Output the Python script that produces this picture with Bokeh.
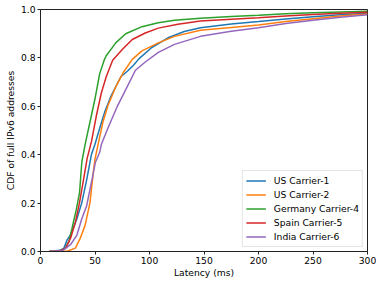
from bokeh.plotting import figure
from bokeh.embed import file_html
from bokeh.resources import INLINE
from bokeh.models import Legend, LegendItem, FixedTicker, PrintfTickFormatter, Range1d

# ---- data (latency ms, CDF) ----
us1_x = [8, 18, 21.5, 24.4, 27.5, 33.4, 37.9, 42.3, 46.8, 49.9, 54.3, 58.8, 64.7, 73.7, 79.7, 85.7, 90.2, 102.1, 117, 131.9, 146.8, 175, 200, 225, 250, 275, 300]
us1_y = [0.0, 0.005, 0.014, 0.048, 0.068, 0.135, 0.202, 0.295, 0.402, 0.442, 0.509, 0.575, 0.642, 0.722, 0.745, 0.772, 0.796, 0.843, 0.883, 0.909, 0.925, 0.940, 0.950, 0.961, 0.970, 0.978, 0.984]

us2_x = [8, 25, 32.0, 36.4, 40.9, 45.4, 48.3, 49.9, 52.8, 57.3, 61.8, 69.2, 76.7, 84.2, 93.1, 108.1, 122.9, 146.8, 175, 200, 225, 250, 275, 300]
us2_y = [0.0, 0.002, 0.014, 0.054, 0.108, 0.202, 0.321, 0.38, 0.442, 0.535, 0.602, 0.682, 0.745, 0.794, 0.829, 0.862, 0.889, 0.914, 0.926, 0.936, 0.950, 0.962, 0.973, 0.981]

de4_x = [8, 17, 23, 26, 28.9, 32.9, 35.8, 37.9, 40.9, 45.4, 49.9, 54.3, 58.8, 60.3, 69.2, 78.2, 93.1, 108, 122.9, 146.8, 175, 200, 225, 250, 275, 300]
de4_y = [0.0, 0.001, 0.014, 0.041, 0.095, 0.175, 0.242, 0.369, 0.442, 0.535, 0.629, 0.735, 0.795, 0.809, 0.863, 0.900, 0.929, 0.945, 0.956, 0.964, 0.971, 0.976, 0.982, 0.987, 0.990, 0.993]

es5_x = [8, 18, 23, 27.5, 32.0, 35.8, 39.4, 42.8, 46.8, 51.3, 55.8, 60.3, 66.2, 75.2, 84.2, 96.1, 108.1, 126, 146.8, 175, 200, 225, 250, 275, 300]
es5_y = [0.0, 0.002, 0.014, 0.054, 0.121, 0.202, 0.295, 0.385, 0.455, 0.562, 0.655, 0.722, 0.790, 0.836, 0.876, 0.903, 0.923, 0.939, 0.952, 0.960, 0.966, 0.973, 0.979, 0.985, 0.989]

in6_x = [8, 20, 27.5, 33.4, 37.9, 42.3, 48.3, 50.4, 54.3, 55.8, 61.8, 70.7, 79.7, 87.1, 96.1, 108.1, 122.9, 146.8, 175, 200, 225, 250, 275, 300]
in6_y = [0.0, 0.003, 0.028, 0.068, 0.135, 0.188, 0.321, 0.369, 0.41, 0.442, 0.509, 0.602, 0.682, 0.749, 0.783, 0.823, 0.856, 0.889, 0.910, 0.925, 0.942, 0.956, 0.968, 0.978]

labels = ["US Carrier-1", "US Carrier-2", "Germany Carrier-4", "Spain Carrier-5", "India Carrier-6"]
colors = ["#1f77b4", "#ff7f0e", "#2ca02c", "#d62728", "#9467bd"]
x_ticks = [0, 50, 100, 150, 200, 250, 300]
y_ticks = [0.0, 0.2, 0.4, 0.6, 0.8, 1.0]

FONT = "DejaVu Sans"
FS = "9.2px"

p = figure(width=376, height=280, output_backend="svg", toolbar_location=None,
           x_range=Range1d(0, 300), y_range=Range1d(0, 1.0),
           min_border_left=40, min_border_right=9, min_border_top=9, min_border_bottom=0)
p.grid.visible = False
p.background_fill_color = "white"
p.border_fill_color = "white"
p.outline_line_color = "#222222"
p.outline_line_width = 1

series = [(us1_x, us1_y), (us2_x, us2_y), (de4_x, de4_y), (es5_x, es5_y), (in6_x, in6_y)]
items = []
for (xs, ys), lab, col in zip(series, labels, colors):
    r = p.line(xs, ys, line_color=col, line_width=1.5)
    items.append(LegendItem(label=lab, renderers=[r]))

for ax in (p.xaxis[0], p.yaxis[0]):
    ax.major_label_text_font = FONT
    ax.major_label_text_font_size = FS
    ax.major_label_text_color = "#000000"
    ax.axis_label_text_font = FONT
    ax.axis_label_text_font_size = FS
    ax.axis_label_text_font_style = "normal"
    ax.axis_label_text_color = "#000000"
    ax.major_tick_out = 3
    ax.major_tick_in = 0
    ax.minor_tick_out = 0
    ax.minor_tick_in = 0
    ax.axis_line_color = "#222222"
    ax.major_tick_line_color = "#222222"
    ax.major_label_standoff = 2
    ax.axis_label_standoff = 0

p.yaxis[0].axis_label_standoff = 2
p.xaxis[0].ticker = FixedTicker(ticks=x_ticks)
p.yaxis[0].ticker = FixedTicker(ticks=y_ticks)
p.yaxis[0].formatter = PrintfTickFormatter(format="%.1f")
p.xaxis[0].axis_label = "Latency (ms)"
p.yaxis[0].axis_label = "CDF of full IPv6 addresses"

legend = Legend(items=items, location="bottom_right")
legend.label_text_font = FONT
legend.label_text_font_size = FS
legend.label_text_color = "#000000"
legend.glyph_width = 20
legend.glyph_height = 13
legend.label_height = 13
legend.spacing = 1
legend.padding = 3
legend.margin = 4
legend.label_standoff = 8
legend.border_line_color = "#cccccc"
legend.border_line_width = 1
legend.background_fill_alpha = 0.9
p.add_layout(legend)

open("out.html", "w").write(file_html(p, INLINE))
